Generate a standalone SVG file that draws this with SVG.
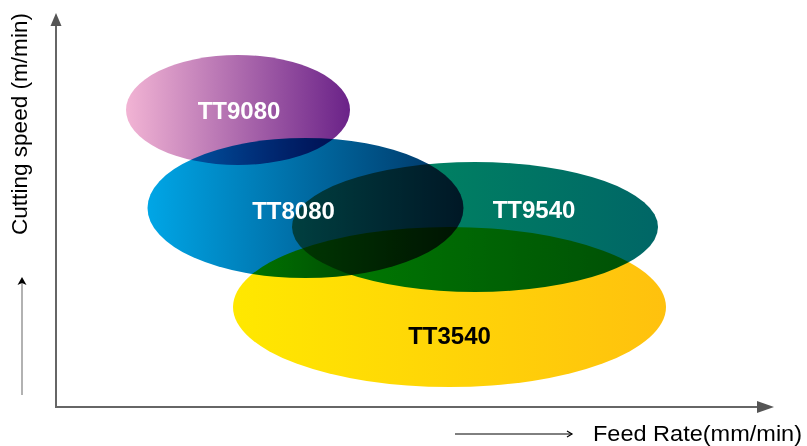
<svg xmlns="http://www.w3.org/2000/svg" width="807" height="446" viewBox="0 0 807 446">
<style>
.blob{mix-blend-mode:multiply}
.lbl{font-family:"Liberation Sans",Arial,sans-serif;font-weight:bold;font-size:24px;text-anchor:middle}
.ax{font-family:"Liberation Sans",Arial,sans-serif;font-size:22px;fill:#000}
.axis{stroke:#666;stroke-width:2;fill:none}
</style>
<defs>
<linearGradient id="g9080" x1="0" y1="0" x2="1" y2="0"><stop offset="0" stop-color="#f2b4d4"/><stop offset="1" stop-color="#6a2288"/></linearGradient>
<linearGradient id="g8080" x1="0" y1="0" x2="1" y2="0"><stop offset="0" stop-color="#00a6e6"/><stop offset="1" stop-color="#003060"/></linearGradient>
<linearGradient id="g9540" x1="0" y1="0" x2="1" y2="0"><stop offset="0" stop-color="#009060"/><stop offset="1" stop-color="#006666"/></linearGradient>
<linearGradient id="g3540" x1="0" y1="0" x2="1" y2="0"><stop offset="0" stop-color="#ffe800"/><stop offset="1" stop-color="#ffc10e"/></linearGradient>
<marker id="chev" markerWidth="10" markerHeight="10" refX="8" refY="5" orient="auto" markerUnits="userSpaceOnUse"><path d="M3,2 L8,5 L3,8" fill="none" stroke="#000" stroke-width="1.2"/></marker>
</defs>
<rect width="807" height="446" fill="#fff"/>
<g id="axes">
<line class="axis" x1="56" y1="407" x2="56" y2="24"/>
<polygon points="56,13 50.5,26 61.5,26" fill="#555"/>
<line class="axis" x1="55" y1="407" x2="758" y2="407"/>
<polygon points="774,407 757,401 757,413" fill="#555"/>
<line x1="22" y1="395" x2="22" y2="282" stroke="#999" stroke-width="1.5"/>
<polygon points="22,277 17.5,285 22,283 26.5,285" fill="#000"/>
<line x1="455" y1="434" x2="572" y2="434" stroke="#000" stroke-width="1" marker-end="url(#chev)"/>
<text class="ax" transform="translate(27,124) rotate(-90)" text-anchor="middle" textLength="222" lengthAdjust="spacingAndGlyphs">Cutting speed (m/min)</text>
<text class="ax" x="593" y="441" textLength="209" lengthAdjust="spacingAndGlyphs">Feed Rate(mm/min)</text>
</g>
<g id="TT9080">
<ellipse class="blob" cx="238" cy="110" rx="112" ry="55" fill="url(#g9080)"/>
<text class="lbl" x="239" y="119" fill="#fff">TT9080</text>
</g>
<g id="TT9540">
<ellipse class="blob" cx="475" cy="227" rx="183" ry="65" fill="url(#g9540)"/>
<text class="lbl" x="534" y="218" fill="#fff">TT9540</text>
</g>
<g id="TT3540">
<ellipse class="blob" cx="449.5" cy="307" rx="216.5" ry="80" fill="url(#g3540)"/>
<text class="lbl" x="449.5" y="344" fill="#000">TT3540</text>
</g>
<g id="TT8080">
<ellipse class="blob" cx="305.5" cy="208" rx="158" ry="70" fill="url(#g8080)"/>
<text class="lbl" x="293.5" y="219" fill="#fff">TT8080</text>
</g>
</svg>
